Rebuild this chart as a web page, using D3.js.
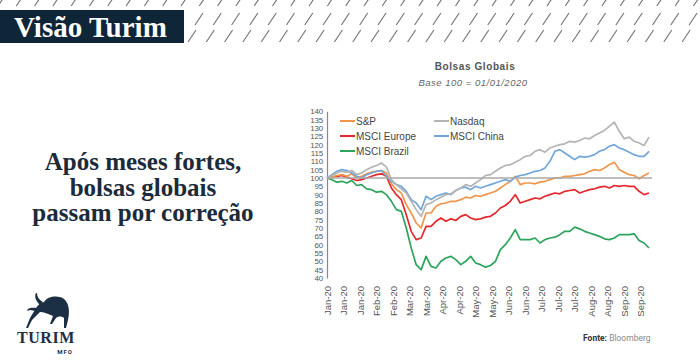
<!DOCTYPE html>
<html><head><meta charset="utf-8">
<script src="https://cdn.jsdelivr.net/npm/d3@7"></script>
<style>body{margin:0;background:#fff}svg{display:block}</style>
</head><body>
<svg id="c" width="700" height="360"></svg>
<script>
// ---- data (sampled every 3 trading days from 02/01/2020) ----
const step = 3;
const sp = [100,100.5,101.5,102,101,102.5,100,101,102.5,103.5,104,104.5,103,96.5,93,91,84,79,73,70,79,79,83,84.5,85,86,86,87,88.5,88,89.5,89,90,91,92,94,96,98,101,96,97,97,96.5,97.5,98,99,100,100,101,101,101.5,102,102.5,104,105,104.5,106,108,109.5,105,103.5,102,101.5,99.5,101.5,103];
const nasdaq = [100,101.5,103,104,103.5,104.5,102,103,105,106.5,107.5,109,106.5,99,96,93.5,91,86,81,77,84,85,87,88.5,90,90.5,92.5,94,96,95,97,99,101.5,102,104,106,107.5,108,109.5,111,113,113.5,116,117,115.5,118,119,120,120.5,122,121.5,122.5,124,123.5,125.5,127,128.5,131,133.5,128,123.5,124.5,122,121,119.5,124.5];
const europe = [100,100.5,101,101.5,100.5,99.5,98.5,99,100,101,102,102.5,101,94,90,87,78,68,63,64,71,71,74,76,74,75.5,74.5,77,78,76,75,75.5,76.5,77,79,82,83.5,86,90,85,86,87,88,87.5,89,90,91,90.5,92,92.5,93,91,92,93,93.5,94.5,95,94,95.5,95,95.5,95,95,92,90,91];
const china = [100,102,104,105,104.5,103,101,100,102,103,104,104.5,101,98,96,95,92,87,85,81,89,87,89,90,91,90,92.5,94,94.5,93,95,94,95,96,97,98,99,98,100.5,101.5,102,103,104,104.5,106,110,116,117,115,113,111,113,112.5,113,114,116,117,119,120,118,117,115.5,114,113,113,116];
const brazil = [100,99,97.5,98,97,98.5,95.5,96,93.5,93,91.5,92,90,86,81,80,70,58,48,45,53,47,46,50,52,53,51,48,50,53,49,48,46.5,47.5,50,57,60,64,69,63,63,63,64,61,63,64,64.5,66,68,68,70.5,69.5,68,67,66,65,63.5,63,64,66,66,66,66.5,62.5,61,58];
const seriesNames = ["S&P","Nasdaq","MSCI Europe","MSCI China","MSCI Brazil"];
const xTickLabels = ["Jan-20","Jan-20","Jan-20","Feb-20","Feb-20","Mar-20","Mar-20","Apr-20","Apr-20","May-20","May-20","Jun-20","Jun-20","Jul-20","Jul-20","Jul-20","Aug-20","Aug-20","Sep-20","Sep-20"];
const yTicks = [40,45,50,55,60,65,70,75,80,85,90,95,100,105,110,115,120,125,130,135,140];
const headline = ["Após meses fortes,","bolsas globais","passam por correção"];

const colors = {"S&P":"#f0954a","Nasdaq":"#b4b4b4","MSCI Europe":"#e4282c","MSCI China":"#72a6d8","MSCI Brazil":"#2da45c"};
const seriesData = {"S&P":sp,"Nasdaq":nasdaq,"MSCI Europe":europe,"MSCI China":china,"MSCI Brazil":brazil};

const svg = d3.select("#c");

// ---- header hatch ----
const hatch = svg.append("g").attr("stroke","#6f6f6f").attr("stroke-width",1.1);
function hatchRow(x0, yb, xmin){
  for(let x=x0; x<710; x+=18.3){
    if(x<xmin) continue;
    hatch.append("line").attr("x1",x).attr("y1",yb).attr("x2",x+8).attr("y2",yb-12);
  }
}
hatchRow(-2, 6, -20);
hatchRow(195-18.3*11, 25, 188);
hatchRow(188-18.3*11, 42, 188);

svg.append("rect").attr("x",0).attr("y",10).attr("width",184).attr("height",33).attr("fill","#0f2639");
svg.append("text").attr("x",14).attr("y",37).attr("fill","#fff")
  .attr("font-family","Liberation Serif, serif").attr("font-weight","bold").attr("font-size",29)
  .text("Visão Turim");

// ---- headline ----
svg.append("g").selectAll("text").data(headline).join("text")
  .attr("x",143).attr("y",(d,i)=>170+i*25.5).attr("text-anchor","middle")
  .attr("fill","#1b2b3a").attr("font-family","Liberation Serif, serif").attr("font-weight","bold").attr("font-size",25)
  .text(d=>d);

// ---- logo ----
const logo = svg.append("g").attr("fill","#1b3044");
logo.append("path").attr("d","M44,302 C48,296 58,295 64,299 C69,303 70,311 68,320 L66,328 L64,328 L64,318 C62,316 58,316 56,318 L52,324 L50,324 L53,316 C48,314 44,312 40,312 L32,320 L28,328 L26,328 L30,318 L36,308 C38,305 40,303 44,302 Z");
logo.append("path").attr("d","M40,305 C36,301 34,297 36,293 L37,293 C37,297 39,300 43,302 Z");
logo.append("path").attr("d","M36,311 C32,311 30,309 28,311 L27,310 C30,307 33,308 37,308 Z");
svg.append("text").attr("x",46).attr("y",343).attr("text-anchor","middle").attr("fill","#1b3044")
  .attr("font-family","Liberation Serif, serif").attr("font-weight","bold").attr("font-size",16).attr("letter-spacing",0.6).text("TURIM");
svg.append("text").attr("x",65).attr("y",354).attr("text-anchor","middle").attr("fill","#1b3044")
  .attr("font-family","Roboto, sans-serif").attr("font-weight","bold").attr("font-size",6).attr("letter-spacing",1).text("MFO");

// ---- chart ----
const x = d3.scaleLinear().domain([0,195]).range([327,649]);
const y = d3.scaleLinear().domain([40,140]).range([278,111.3]);

svg.append("text").attr("x",475).attr("y",70).attr("text-anchor","middle").attr("fill","#555")
  .attr("font-family","Liberation Sans, Arial, sans-serif").attr("font-weight","bold").attr("font-size",10).attr("letter-spacing",0.6)
  .text("Bolsas Globais");
svg.append("text").attr("x",473).attr("y",86).attr("text-anchor","middle").attr("fill","#666")
  .attr("font-family","Liberation Sans, Arial, sans-serif").attr("font-style","italic").attr("font-size",9.5).attr("letter-spacing",0.5)
  .text("Base 100 = 01/01/2020");

const yAxis = svg.append("g").attr("transform","translate(327,0)")
  .call(d3.axisLeft(y).tickValues(yTicks).tickSize(0).tickPadding(4));
yAxis.select(".domain").attr("stroke","#888").attr("stroke-width",1.2);
yAxis.selectAll("text").attr("fill","#555").attr("font-family","Liberation Sans, Arial, sans-serif").attr("font-size",8).attr("letter-spacing",-0.2);

const xAxis = svg.append("g").attr("transform","translate(0,286)")
  .call(d3.axisBottom(x).tickValues(d3.range(0,200,10)).tickFormat((d,i)=>xTickLabels[i]).tickSize(0));
xAxis.select(".domain").remove();
xAxis.selectAll("text").attr("fill","#555").attr("font-family","Liberation Sans, Arial, sans-serif").attr("font-size",9.5)
  .attr("transform","rotate(-90)").attr("text-anchor","end").attr("dx","0").attr("dy","0.33em").attr("y",0).attr("x",0);

const line = d3.line().x((d,i)=>x(i*step)).y(d=>y(d)).curve(d3.curveLinear);
["MSCI Brazil","MSCI Europe","S&P","MSCI China","Nasdaq"].forEach(n=>{
  svg.append("path").datum(seriesData[n]).attr("d",line).attr("fill","none")
    .attr("stroke",colors[n]).attr("stroke-width",1.7).attr("stroke-linejoin","round");
});

svg.append("line").attr("x1",327).attr("x2",652).attr("y1",y(100)).attr("y2",y(100))
  .attr("stroke","#a8a8a8").attr("stroke-width",1.5);

// legend
const legendPos = [[340,121],[434,121],[340,136],[434,136],[340,151]];
const lg = svg.append("g").selectAll("g").data(seriesNames).join("g")
  .attr("transform",(d,i)=>`translate(${legendPos[i][0]},${legendPos[i][1]})`);
lg.append("line").attr("x1",0).attr("x2",15).attr("stroke",d=>colors[d]).attr("stroke-width",2);
lg.append("text").attr("x",16).attr("dy","0.35em").attr("fill","#444")
  .attr("font-family","Liberation Sans, Arial, sans-serif").attr("font-size",10).text(d=>d);

// source
const src = svg.append("text").attr("x",583).attr("y",341).attr("font-family","Roboto, sans-serif").attr("font-size",8.5);
src.append("tspan").attr("font-weight","bold").attr("fill","#333").text("Fonte: ");
src.append("tspan").attr("fill","#888").text("Bloomberg");
</script>
</body></html>
